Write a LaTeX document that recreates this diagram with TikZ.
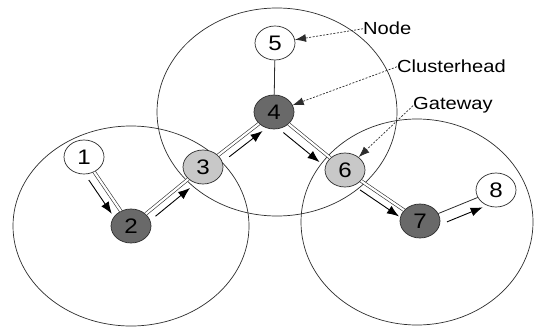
\documentclass[tikz,border=0pt]{standalone}
\usepackage{fontspec}
\setmainfont[FakeStretch=1.15]{Liberation Sans}
\usetikzlibrary{calc,arrows.meta,shapes.geometric}
\definecolor{dk}{RGB}{105,105,105}
\definecolor{lt}{RGB}{200,200,200}
\definecolor{ln}{RGB}{45,45,45}
\begin{document}
\begin{tikzpicture}[x=1pt,y=-1pt,
  cluster/.style={draw=ln, line width=0.7pt},
  nd/.style={ellipse, draw=ln, line width=0.7pt, fill=white, minimum width=40pt, minimum height=34pt, inner sep=0pt, font=\fontsize{21}{21}\selectfont},
  head/.style={nd, fill=dk},
  gate/.style={nd, fill=lt},
  link/.style={draw=ln, line width=0.6pt, double=white, double distance=2.2pt},
  plain/.style={draw=ln, line width=0.8pt},
  flow/.style={draw=black, line width=0.9pt, -{Latex[length=12pt,width=9pt]}},
  lbl/.style={inner sep=0pt, font=\fontsize{17.5}{17.5}\selectfont},
  pointer/.style={draw=ln, line width=0.7pt, dash pattern=on 2pt off 1.5pt, -{Latex[length=11pt,width=8pt]}}
]
\useasboundingbox (0,0) rectangle (537,326);
\fill[white] (0,0) rectangle (537,326);

% cluster ranges
\draw[cluster] (131,226) ellipse [x radius=118pt, y radius=100pt];
\draw[cluster] (277,112) ellipse [x radius=120pt, y radius=104pt];
\draw[cluster] (417,222) ellipse [x radius=116pt, y radius=103pt];

% nodes
\node[nd]   (n1) at (84,157)  {1};
\node[head] (n2) at (131,226) {2};
\node[gate] (n3) at (203,167) {3};
\node[head] (n4) at (274,112) {4};
\node[nd]   (n5) at (275,43)  {5};
\node[gate] (n6) at (345,170) {6};
\node[head] (n7) at (420,221) {7};
\node[nd]   (n8) at (496,190) {8};

% links
\draw[link] (n1) -- (n2);
\draw[link] (n2) -- (n3);
\draw[link] (n3) -- (n4);
\draw[link] (n4) -- (n6);
\draw[link] (n6) -- (n7);
\draw[plain] (n7) -- (n8);
\draw[plain] (n4) -- (n5);

% data flow arrows
\draw[flow] ($(n1)!0.26!(n2)!9pt!-90:(n2)$) -- ($(n1)!0.75!(n2)!9pt!-90:(n2)$);
\draw[flow] ($(n2)!0.27!(n3)!8pt!-90:(n3)$) -- ($(n2)!0.75!(n3)!8pt!-90:(n3)$);
\draw[flow] ($(n3)!0.30!(n4)!8pt!-90:(n4)$) -- ($(n3)!0.77!(n4)!8pt!-90:(n4)$);
\draw[flow] ($(n4)!0.22!(n6)!10pt!-90:(n6)$) -- ($(n4)!0.73!(n6)!10pt!-90:(n6)$);
\draw[flow] ($(n6)!0.26!(n7)!8pt!-90:(n7)$) -- ($(n6)!0.78!(n7)!8pt!-90:(n7)$);
\draw[flow] ($(n7)!0.30!(n8)!11pt!-90:(n8)$) -- ($(n7)!0.77!(n8)!11pt!-90:(n8)$);

% labels
\node[lbl, anchor=base west] (lnode) at (363,35) {Node};
\node[lbl, anchor=base west] (lhead) at (397,73) {Clusterhead};
\node[lbl, anchor=base west] (lgate) at (413,110) {Gateway};
\draw[pointer] (lnode.west) -- (n5);
\draw[pointer] (lhead.west) -- (n4);
\draw[pointer] (lgate.west) -- (n6);
\end{tikzpicture}
\end{document}
